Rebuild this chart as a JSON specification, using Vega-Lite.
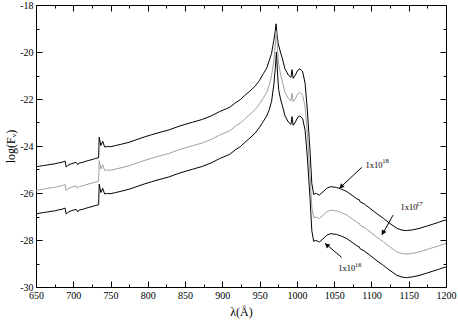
{
  "$schema": "https://vega.github.io/schema/vega-lite/v6.json",
  "width": 410,
  "height": 282,
  "autosize": {"type": "none"},
  "padding": {"left": 36, "top": 5, "right": 12, "bottom": 34},
  "background": "white",
  "config": {
    "view": {"stroke": null},
    "axis": {
      "labelFont": "Liberation Serif",
      "titleFont": "Liberation Serif",
      "labelFontSize": 10,
      "titleFontSize": 12,
      "titleFontWeight": "normal",
      "domainColor": "black",
      "tickColor": "black",
      "labelColor": "black",
      "titleColor": "black",
      "grid": false,
      "domainWidth": 1,
      "tickWidth": 1
    }
  },
  "datasets": {
    "top": [
      {"lam":650,"logF":-24.88},{"lam":655,"logF":-24.86},{"lam":660,"logF":-24.83},{"lam":665,"logF":-24.81},{"lam":670,"logF":-24.78},{"lam":675,"logF":-24.76},{"lam":680,"logF":-24.72},{"lam":685,"logF":-24.69},{"lam":689,"logF":-24.64},{"lam":690.5,"logF":-24.9},{"lam":693,"logF":-24.82},{"lam":697,"logF":-24.76},{"lam":701,"logF":-24.72},{"lam":704,"logF":-24.7},{"lam":706,"logF":-24.8},{"lam":708,"logF":-24.72},{"lam":712,"logF":-24.7},{"lam":716,"logF":-24.66},{"lam":720,"logF":-24.62},{"lam":725,"logF":-24.58},{"lam":730,"logF":-24.53},{"lam":734,"logF":-24.5},{"lam":734.8,"logF":-23.62},{"lam":737,"logF":-23.98},{"lam":739.5,"logF":-23.8},{"lam":742,"logF":-24.04},{"lam":746,"logF":-24.02},{"lam":750,"logF":-24.03},{"lam":757,"logF":-23.98},{"lam":765,"logF":-23.92},{"lam":775,"logF":-23.84},{"lam":784,"logF":-23.74},{"lam":795,"logF":-23.62},{"lam":805,"logF":-23.52},{"lam":815,"logF":-23.43},{"lam":828,"logF":-23.32},{"lam":840,"logF":-23.18},{"lam":850,"logF":-23.08},{"lam":860,"logF":-22.99},{"lam":873,"logF":-22.87},{"lam":885,"logF":-22.72},{"lam":896,"logF":-22.54},{"lam":905,"logF":-22.42},{"lam":910,"logF":-22.35},{"lam":918,"logF":-22.15},{"lam":924,"logF":-22.03},{"lam":930,"logF":-21.85},{"lam":937,"logF":-21.66},{"lam":944,"logF":-21.45},{"lam":950,"logF":-21.2},{"lam":955,"logF":-20.92},{"lam":959.5,"logF":-20.69},{"lam":963,"logF":-20.35},{"lam":966,"logF":-20.06},{"lam":969,"logF":-19.5},{"lam":971,"logF":-19.1},{"lam":972,"logF":-18.8},{"lam":973.5,"logF":-19.3},{"lam":975,"logF":-19.65},{"lam":977.3,"logF":-19.93},{"lam":981,"logF":-20.34},{"lam":984,"logF":-20.72},{"lam":988.5,"logF":-20.98},{"lam":992,"logF":-21.08},{"lam":993.5,"logF":-20.75},{"lam":995,"logF":-21.12},{"lam":998,"logF":-20.98},{"lam":1001,"logF":-20.78},{"lam":1004,"logF":-20.72},{"lam":1007.7,"logF":-20.84},{"lam":1011,"logF":-21.33},{"lam":1014,"logF":-22.47},{"lam":1017.5,"logF":-24.17},{"lam":1020,"logF":-25.6},{"lam":1022.5,"logF":-26.05},{"lam":1026,"logF":-26.02},{"lam":1030,"logF":-26.09},{"lam":1035,"logF":-25.95},{"lam":1040,"logF":-25.8},{"lam":1045,"logF":-25.73},{"lam":1053,"logF":-25.76},{"lam":1060,"logF":-25.84},{"lam":1067,"logF":-25.94},{"lam":1075,"logF":-26.12},{"lam":1082,"logF":-26.28},{"lam":1083.5,"logF":-26.28},{"lam":1085,"logF":-26.38},{"lam":1090,"logF":-26.46},{"lam":1098,"logF":-26.65},{"lam":1106,"logF":-26.85},{"lam":1116,"logF":-27.08},{"lam":1125,"logF":-27.3},{"lam":1134,"logF":-27.5},{"lam":1141,"logF":-27.58},{"lam":1147,"logF":-27.6},{"lam":1155,"logF":-27.57},{"lam":1165,"logF":-27.5},{"lam":1175,"logF":-27.4},{"lam":1183,"logF":-27.32},{"lam":1190,"logF":-27.25},{"lam":1196,"logF":-27.18},{"lam":1200,"logF":-27.15}
    ],
    "mid": [
      {"lam":650,"logF":-25.88},{"lam":655,"logF":-25.86},{"lam":660,"logF":-25.83},{"lam":665,"logF":-25.81},{"lam":670,"logF":-25.78},{"lam":675,"logF":-25.76},{"lam":680,"logF":-25.72},{"lam":685,"logF":-25.69},{"lam":689,"logF":-25.64},{"lam":690.5,"logF":-25.9},{"lam":693,"logF":-25.82},{"lam":697,"logF":-25.76},{"lam":701,"logF":-25.72},{"lam":704,"logF":-25.7},{"lam":706,"logF":-25.8},{"lam":708,"logF":-25.72},{"lam":712,"logF":-25.7},{"lam":716,"logF":-25.66},{"lam":720,"logF":-25.62},{"lam":725,"logF":-25.58},{"lam":730,"logF":-25.53},{"lam":734,"logF":-25.5},{"lam":734.8,"logF":-24.62},{"lam":737,"logF":-24.98},{"lam":739.5,"logF":-24.8},{"lam":742,"logF":-25.04},{"lam":746,"logF":-25.02},{"lam":750,"logF":-25.03},{"lam":757,"logF":-24.98},{"lam":765,"logF":-24.92},{"lam":775,"logF":-24.84},{"lam":784,"logF":-24.74},{"lam":795,"logF":-24.62},{"lam":805,"logF":-24.52},{"lam":815,"logF":-24.43},{"lam":828,"logF":-24.32},{"lam":840,"logF":-24.18},{"lam":850,"logF":-24.08},{"lam":860,"logF":-23.99},{"lam":873,"logF":-23.87},{"lam":885,"logF":-23.72},{"lam":896,"logF":-23.54},{"lam":905,"logF":-23.42},{"lam":910,"logF":-23.35},{"lam":918,"logF":-23.15},{"lam":924,"logF":-23.03},{"lam":930,"logF":-22.85},{"lam":937,"logF":-22.66},{"lam":944,"logF":-22.45},{"lam":950,"logF":-22.2},{"lam":955,"logF":-21.95},{"lam":959.5,"logF":-21.72},{"lam":963,"logF":-21.4},{"lam":966,"logF":-21.0},{"lam":969,"logF":-20.4},{"lam":971,"logF":-19.7},{"lam":972.5,"logF":-19.1},{"lam":974,"logF":-19.9},{"lam":975.5,"logF":-20.5},{"lam":978,"logF":-20.95},{"lam":981,"logF":-21.34},{"lam":984,"logF":-21.72},{"lam":988.5,"logF":-21.98},{"lam":992,"logF":-22.08},{"lam":993.5,"logF":-21.75},{"lam":995,"logF":-22.12},{"lam":998,"logF":-21.98},{"lam":1001,"logF":-21.78},{"lam":1004,"logF":-21.72},{"lam":1007.7,"logF":-21.84},{"lam":1011,"logF":-22.33},{"lam":1014,"logF":-23.47},{"lam":1017.5,"logF":-25.17},{"lam":1020,"logF":-26.6},{"lam":1022.5,"logF":-27.05},{"lam":1026,"logF":-27.02},{"lam":1030,"logF":-27.09},{"lam":1035,"logF":-26.95},{"lam":1040,"logF":-26.8},{"lam":1045,"logF":-26.73},{"lam":1053,"logF":-26.76},{"lam":1060,"logF":-26.84},{"lam":1067,"logF":-26.94},{"lam":1075,"logF":-27.12},{"lam":1082,"logF":-27.28},{"lam":1083.5,"logF":-27.28},{"lam":1085,"logF":-27.38},{"lam":1090,"logF":-27.46},{"lam":1098,"logF":-27.65},{"lam":1106,"logF":-27.85},{"lam":1116,"logF":-28.08},{"lam":1125,"logF":-28.3},{"lam":1134,"logF":-28.5},{"lam":1141,"logF":-28.58},{"lam":1147,"logF":-28.6},{"lam":1155,"logF":-28.57},{"lam":1165,"logF":-28.5},{"lam":1175,"logF":-28.4},{"lam":1183,"logF":-28.32},{"lam":1190,"logF":-28.25},{"lam":1196,"logF":-28.18},{"lam":1200,"logF":-28.15}
    ],
    "bot": [
      {"lam":650,"logF":-26.88},{"lam":655,"logF":-26.86},{"lam":660,"logF":-26.83},{"lam":665,"logF":-26.81},{"lam":670,"logF":-26.78},{"lam":675,"logF":-26.76},{"lam":680,"logF":-26.72},{"lam":685,"logF":-26.69},{"lam":689,"logF":-26.64},{"lam":690.5,"logF":-26.9},{"lam":693,"logF":-26.82},{"lam":697,"logF":-26.76},{"lam":701,"logF":-26.72},{"lam":704,"logF":-26.7},{"lam":706,"logF":-26.8},{"lam":708,"logF":-26.72},{"lam":712,"logF":-26.7},{"lam":716,"logF":-26.66},{"lam":720,"logF":-26.62},{"lam":725,"logF":-26.58},{"lam":730,"logF":-26.53},{"lam":734,"logF":-26.5},{"lam":734.8,"logF":-25.62},{"lam":737,"logF":-25.98},{"lam":739.5,"logF":-25.8},{"lam":742,"logF":-26.04},{"lam":746,"logF":-26.02},{"lam":750,"logF":-26.03},{"lam":757,"logF":-25.98},{"lam":765,"logF":-25.92},{"lam":775,"logF":-25.84},{"lam":784,"logF":-25.74},{"lam":795,"logF":-25.62},{"lam":805,"logF":-25.52},{"lam":815,"logF":-25.43},{"lam":828,"logF":-25.32},{"lam":840,"logF":-25.18},{"lam":850,"logF":-25.08},{"lam":860,"logF":-24.99},{"lam":873,"logF":-24.87},{"lam":885,"logF":-24.72},{"lam":896,"logF":-24.54},{"lam":905,"logF":-24.42},{"lam":910,"logF":-24.35},{"lam":918,"logF":-24.15},{"lam":924,"logF":-24.03},{"lam":930,"logF":-23.85},{"lam":937,"logF":-23.66},{"lam":944,"logF":-23.45},{"lam":950,"logF":-23.2},{"lam":955,"logF":-22.95},{"lam":959.5,"logF":-22.72},{"lam":963,"logF":-22.45},{"lam":966,"logF":-22.1},{"lam":969,"logF":-21.4},{"lam":971,"logF":-20.7},{"lam":972.5,"logF":-20.0},{"lam":974,"logF":-20.9},{"lam":975.5,"logF":-21.6},{"lam":978,"logF":-22.0},{"lam":981,"logF":-22.34},{"lam":984,"logF":-22.72},{"lam":988.5,"logF":-22.98},{"lam":992,"logF":-23.08},{"lam":993.5,"logF":-22.75},{"lam":995,"logF":-23.12},{"lam":998,"logF":-22.98},{"lam":1001,"logF":-22.78},{"lam":1004,"logF":-22.72},{"lam":1007.7,"logF":-22.84},{"lam":1011,"logF":-23.33},{"lam":1014,"logF":-24.47},{"lam":1017.5,"logF":-26.17},{"lam":1020,"logF":-27.6},{"lam":1022.5,"logF":-28.05},{"lam":1026,"logF":-28.02},{"lam":1030,"logF":-28.09},{"lam":1035,"logF":-27.95},{"lam":1040,"logF":-27.8},{"lam":1045,"logF":-27.73},{"lam":1053,"logF":-27.76},{"lam":1060,"logF":-27.84},{"lam":1067,"logF":-27.94},{"lam":1075,"logF":-28.12},{"lam":1082,"logF":-28.28},{"lam":1083.5,"logF":-28.28},{"lam":1085,"logF":-28.38},{"lam":1090,"logF":-28.46},{"lam":1098,"logF":-28.65},{"lam":1106,"logF":-28.85},{"lam":1116,"logF":-29.08},{"lam":1125,"logF":-29.3},{"lam":1134,"logF":-29.5},{"lam":1141,"logF":-29.58},{"lam":1147,"logF":-29.6},{"lam":1155,"logF":-29.57},{"lam":1165,"logF":-29.5},{"lam":1175,"logF":-29.4},{"lam":1183,"logF":-29.32},{"lam":1190,"logF":-29.25},{"lam":1196,"logF":-29.18},{"lam":1200,"logF":-29.15}
    ],
    "arrows": [
      {"id":"a18","lam":1087,"logF":-24.91,"lam2":1057,"logF2":-25.8},
      {"id":"a17","lam":1129,"logF":-26.94,"lam2":1114,"logF2":-27.79},
      {"id":"a16","lam":1060,"logF":-28.74,"lam2":1037.7,"logF2":-28.14}
    ],
    "heads": [
      {"id":"a18","lam":1059.3,"logF":-25.73},
      {"id":"a17","lam":1115.4,"logF":-27.69},
      {"id":"a16","lam":1040.2,"logF":-28.21}
    ],
    "labels": [
      {"kind":"base","text":"1x10","lam":1092,"logF":-24.82},
      {"kind":"sup","text":"18","lam":1114.5,"logF":-24.65},
      {"kind":"base","text":"1x10","lam":1139,"logF":-26.61},
      {"kind":"sup","text":"17","lam":1160,"logF":-26.46},
      {"kind":"base","text":"1x10","lam":1055.5,"logF":-29.18},
      {"kind":"sup","text":"16","lam":1078,"logF":-29.05}
    ]
  },
  "layer": [
    {
      "data": {"name": "top"},
      "mark": {"type": "line", "color": "black", "strokeWidth": 1},
      "encoding": {
        "x": {"field": "lam", "type": "quantitative", "scale": {"domain": [650, 1200], "nice": false, "zero": false},
          "axis": {"orient": "bottom", "values": [650,675,700,725,750,775,800,825,850,875,900,925,950,975,1000,1025,1050,1075,1100,1125,1150,1175,1200],
            "labelExpr": "datum.value % 50 === 0 ? '' + datum.value : ''",
            "tickSize": {"condition": {"test": "datum.value % 50 === 0", "value": -6}, "value": -3},
            "labelPadding": 9, "labelFlush": false, "labelOverlap": false, "title": "λ(Å)", "titlePadding": 3}},
        "y": {"field": "logF", "type": "quantitative", "scale": {"domain": [-30, -18], "nice": false, "zero": false},
          "axis": {"orient": "left", "values": [-30,-29,-28,-27,-26,-25,-24,-23,-22,-21,-20,-19,-18],
            "labelExpr": "datum.value % 2 === 0 ? '' + datum.value : ''",
            "tickSize": {"condition": {"test": "datum.value % 2 === 0", "value": -6}, "value": -3},
            "labelPadding": 9, "labelFlush": false, "labelOverlap": false, "title": "log(Fᵥ)", "titlePadding": 2}}
      }
    },
    {
      "data": {"name": "mid"},
      "mark": {"type": "line", "color": "#a0a0a0", "strokeWidth": 1},
      "encoding": {
        "x": {"field": "lam", "type": "quantitative", "scale": {"domain": [650, 1200], "nice": false, "zero": false}, "axis": null},
        "y": {"field": "logF", "type": "quantitative", "scale": {"domain": [-30, -18], "nice": false, "zero": false}, "axis": null}
      }
    },
    {
      "data": {"name": "bot"},
      "mark": {"type": "line", "color": "black", "strokeWidth": 1},
      "encoding": {
        "x": {"field": "lam", "type": "quantitative", "scale": {"domain": [650, 1200], "nice": false, "zero": false}, "axis": null},
        "y": {"field": "logF", "type": "quantitative", "scale": {"domain": [-30, -18], "nice": false, "zero": false}, "axis": null}
      }
    },
    {
      "data": {"name": "arrows"},
      "mark": {"type": "rule", "color": "black", "strokeWidth": 1},
      "encoding": {
        "x": {"field": "lam", "type": "quantitative", "scale": {"domain": [650, 1200], "nice": false, "zero": false},
          "axis": {"orient": "top", "values": [650,675,700,725,750,775,800,825,850,875,900,925,950,975,1000,1025,1050,1075,1100,1125,1150,1175,1200],
            "labels": false, "title": null,
            "tickSize": {"condition": {"test": "datum.value % 50 === 0", "value": -6}, "value": -3}}},
        "y": {"field": "logF", "type": "quantitative", "scale": {"domain": [-30, -18], "nice": false, "zero": false},
          "axis": {"orient": "right", "values": [-30,-29,-28,-27,-26,-25,-24,-23,-22,-21,-20,-19,-18],
            "labels": false, "title": null,
            "tickSize": {"condition": {"test": "datum.value % 2 === 0", "value": -6}, "value": -3}}},
        "x2": {"field": "lam2"},
        "y2": {"field": "logF2"}
      }
    },
    {
      "data": {"name": "heads"},
      "transform": [{"filter": "datum.id === 'a18'"}],
      "mark": {"type": "point", "shape": "triangle-up", "filled": true, "color": "black", "opacity": 1, "size": 28, "angle": 227},
      "encoding": {
        "x": {"field": "lam", "type": "quantitative", "scale": {"domain": [650, 1200], "nice": false, "zero": false}, "axis": null},
        "y": {"field": "logF", "type": "quantitative", "scale": {"domain": [-30, -18], "nice": false, "zero": false}, "axis": null}
      }
    },
    {
      "data": {"name": "heads"},
      "transform": [{"filter": "datum.id === 'a17'"}],
      "mark": {"type": "point", "shape": "triangle-up", "filled": true, "color": "black", "opacity": 1, "size": 28, "angle": 210},
      "encoding": {
        "x": {"field": "lam", "type": "quantitative", "scale": {"domain": [650, 1200], "nice": false, "zero": false}, "axis": null},
        "y": {"field": "logF", "type": "quantitative", "scale": {"domain": [-30, -18], "nice": false, "zero": false}, "axis": null}
      }
    },
    {
      "data": {"name": "heads"},
      "transform": [{"filter": "datum.id === 'a16'"}],
      "mark": {"type": "point", "shape": "triangle-up", "filled": true, "color": "black", "opacity": 1, "size": 28, "angle": 310},
      "encoding": {
        "x": {"field": "lam", "type": "quantitative", "scale": {"domain": [650, 1200], "nice": false, "zero": false}, "axis": null},
        "y": {"field": "logF", "type": "quantitative", "scale": {"domain": [-30, -18], "nice": false, "zero": false}, "axis": null}
      }
    },
    {
      "data": {"name": "labels"},
      "transform": [{"filter": "datum.kind === 'base'"}],
      "mark": {"type": "text", "font": "Liberation Serif", "fontSize": 8.5, "align": "left", "baseline": "middle", "color": "black"},
      "encoding": {
        "x": {"field": "lam", "type": "quantitative", "scale": {"domain": [650, 1200], "nice": false, "zero": false}, "axis": null},
        "y": {"field": "logF", "type": "quantitative", "scale": {"domain": [-30, -18], "nice": false, "zero": false}, "axis": null},
        "text": {"field": "text"}
      }
    },
    {
      "data": {"name": "labels"},
      "transform": [{"filter": "datum.kind === 'sup'"}],
      "mark": {"type": "text", "font": "Liberation Serif", "fontSize": 6.5, "align": "left", "baseline": "middle", "color": "black"},
      "encoding": {
        "x": {"field": "lam", "type": "quantitative", "scale": {"domain": [650, 1200], "nice": false, "zero": false}, "axis": null},
        "y": {"field": "logF", "type": "quantitative", "scale": {"domain": [-30, -18], "nice": false, "zero": false}, "axis": null},
        "text": {"field": "text"}
      }
    }
  ],
  "resolve": {"axis": {"x": "independent", "y": "independent"}}
}
